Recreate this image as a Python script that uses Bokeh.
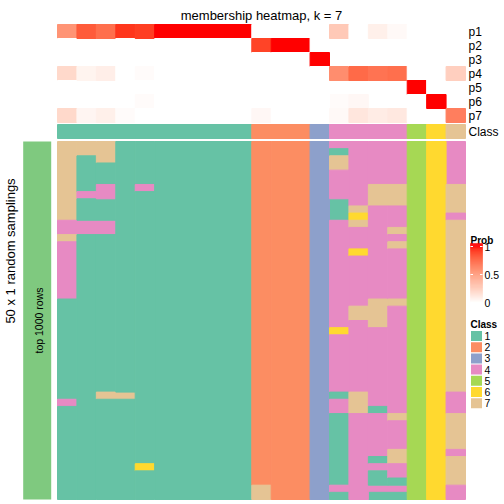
import math
from bokeh.plotting import figure
from bokeh.models import Range1d
from bokeh.embed import file_html
from bokeh.resources import INLINE
from bokeh.core.properties import value

# ---------------- data ----------------
prob_names = ["p1", "p2", "p3", "p4", "p5", "p6", "p7"]
p1 = [0.55, 0.80, 0.72, 0.92, 0.90, 1, 1, 1, 1, 1, 0, 0, 0, 0, 0.28, 0, 0.08, 0.03, 0, 0, 0]
p2 = [0, 0, 0, 0, 0, 0, 0, 0, 0, 0, 0.88, 1, 1, 0, 0, 0, 0, 0, 0, 0, 0]
p3 = [0, 0, 0, 0, 0, 0, 0, 0, 0, 0, 0, 0, 0, 1, 0, 0, 0, 0, 0, 0, 0]
p4 = [0.20, 0.06, 0.09, 0, 0.02, 0, 0, 0, 0, 0, 0, 0, 0, 0, 0.58, 0.74, 0.70, 0.72, 0, 0, 0.25]
p5 = [0, 0, 0, 0, 0, 0, 0, 0, 0, 0, 0, 0, 0, 0, 0, 0, 0, 0, 1, 0, 0]
p6 = [0, 0, 0, 0, 0.02, 0, 0, 0, 0, 0, 0, 0, 0, 0, 0.02, 0.04, 0, 0, 0, 1, 0]
p7 = [0.20, 0.05, 0.08, 0.02, 0, 0, 0, 0, 0, 0, 0.04, 0, 0, 0, 0.03, 0.13, 0.10, 0.12, 0, 0, 0.65]
prob_rows = [p1, p2, p3, p4, p5, p6, p7]

class_of_col = [1, 1, 1, 1, 1, 1, 1, 1, 1, 1, 2, 2, 2, 3, 4, 4, 4, 4, 5, 6, 7]

# class of each column in each of the 50 random samplings (one string per row)
samplings = [
    "7771111111 222 3 4444 56 4",
    "7771111111 222 3 1444 56 4",
    "7171111111 222 3 7444 56 4",
    "7111111111 222 3 7444 56 4",
    "7111111111 222 3 4444 56 4",
    "7111111111 222 3 4444 56 4",
    "7141411111 222 3 4477 56 7",
    "7441111111 222 3 4477 56 7",
    "7111111111 222 3 1477 56 7",
    "7111111111 222 3 1744 56 7",
    "7111111111 222 3 1644 56 4",
    "4441111111 222 3 4744 56 7",
    "4441111111 222 3 4447 56 7",
    "7111111111 222 3 4444 56 7",
    "4111111111 222 3 4447 56 7",
    "4111111111 222 3 4644 56 7",
    "4111111111 222 3 4444 56 7",
    "4111111111 222 3 4444 56 7",
    "4111111111 222 3 4444 56 7",
    "4111111111 222 3 4444 56 7",
    "4111111111 222 3 4444 56 7",
    "4111111111 222 3 4444 56 7",
    "1111111111 222 3 4477 56 7",
    "1111111111 222 3 4774 56 7",
    "1111111111 222 3 4774 56 7",
    "1111111111 222 3 4474 56 7",
    "1111111111 222 3 6444 56 7",
    "1111111111 222 3 4444 56 7",
    "1111111111 222 3 4444 56 7",
    "1111111111 222 3 4444 56 7",
    "1111111111 222 3 4444 56 7",
    "1111111111 222 3 4444 56 7",
    "1111111111 222 3 4444 56 7",
    "1111111111 222 3 4444 56 7",
    "1111111111 222 3 4444 56 7",
    "1177111111 222 3 1744 56 4",
    "4111111111 222 3 4744 56 4",
    "1111111111 222 3 4714 56 4",
    "1111111111 222 3 1447 56 7",
    "1111111111 222 3 1444 56 7",
    "1111111111 222 3 1444 56 7",
    "1111111111 222 3 1444 56 7",
    "1111111111 222 3 1444 56 7",
    "1111111111 222 3 1447 56 4",
    "1111111111 222 3 1417 56 7",
    "1111611111 222 3 1444 56 7",
    "1111111111 222 3 1414 56 7",
    "1111111111 222 3 1411 56 7",
    "1111111111 722 3 4444 56 4",
    "1111111111 722 3 1411 56 4",
]

class_labels = ["1", "2", "3", "4", "5", "6", "7"]
class_colors = {1: "#66C2A5", 2: "#FC8D62", 3: "#8DA0CB", 4: "#E78AC3",
                5: "#A6D854", 6: "#FFD92F", 7: "#E5C494"}
prob_breaks = [0, 0.5, 1]
prob_break_labels = ["0", "0.5", "1"]

title = "membership heatmap, k = 7"
row_title = "50 x 1 random samplings"
slice_title = "top 1000 rows"
slice_color = "#7FC97F"

# ---------------- colour ramp white -> red in LAB ----------------
def _lin(c):
    c = c / 255.0
    return c / 12.92 if c <= 0.04045 else ((c + 0.055) / 1.055) ** 2.4

def _gam(c):
    c = 12.92 * c if c <= 0.0031308 else 1.055 * (max(c, 0) ** (1 / 2.4)) - 0.055
    return int(round(min(max(c, 0), 1) * 255))

_WN = (0.95047, 1.0, 1.08883)

def _to_lab(rgb):
    r, g, b = [_lin(v) for v in rgb]
    X = 0.4124 * r + 0.3576 * g + 0.1805 * b
    Y = 0.2126 * r + 0.7152 * g + 0.0722 * b
    Z = 0.0193 * r + 0.1192 * g + 0.9505 * b
    def f(t):
        return t ** (1 / 3) if t > 0.008856 else 7.787 * t + 16 / 116
    fx, fy, fz = f(X / _WN[0]), f(Y / _WN[1]), f(Z / _WN[2])
    return (116 * fy - 16, 500 * (fx - fy), 200 * (fy - fz))

def _from_lab(lab):
    L, a, b = lab
    fy = (L + 16) / 116
    fx = fy + a / 500
    fz = fy - b / 200
    def fi(t):
        return t ** 3 if t ** 3 > 0.008856 else (t - 16 / 116) / 7.787
    X, Y, Z = fi(fx) * _WN[0], fi(fy) * _WN[1], fi(fz) * _WN[2]
    r = 3.2406 * X - 1.5372 * Y - 0.4986 * Z
    g = -0.9689 * X + 1.8758 * Y + 0.0415 * Z
    bb = 0.0557 * X - 0.2040 * Y + 1.0570 * Z
    return "#%02x%02x%02x" % (_gam(r), _gam(g), _gam(bb))

_LW = _to_lab((255, 255, 255))
_LR = _to_lab((255, 0, 0))

def ramp(v):
    v = min(max(v, 0.0), 1.0)
    return _from_lab(tuple(_LW[i] + (_LR[i] - _LW[i]) * v for i in range(3)))

# ---------------- layout (page pixels) ----------------
PAGE0, PAGE1 = 0, 504
COL_L, COL_R = 57, 465
NCOL = len(class_of_col)
CW = (COL_R - COL_L) / NCOL
HM_TOP, HM_BOT = 141, 499
NROW = len(samplings)
RH = (HM_BOT - HM_TOP) / NROW
ANN_TOP, AH = 24, 14
CLASS_ROW_TOP = 124
PROB_Y0, PROB_SCALE = 302, 56

p = figure(width=PAGE1 - PAGE0, height=PAGE1 - PAGE0, output_backend="svg",
           toolbar_location=None, x_range=Range1d(PAGE0, PAGE1),
           y_range=Range1d(PAGE1, PAGE0), x_axis_location=None,
           y_axis_location=None, min_border=0)
p.outline_line_color = None
p.grid.grid_line_color = None
p.background_fill_color = "white"
p.border_fill_color = "white"

p.extra_x_ranges = {"col": Range1d((PAGE0 - COL_L) / CW, (PAGE1 - COL_L) / CW)}
p.extra_y_ranges = {
    "row": Range1d((PAGE1 - HM_TOP) / RH, (PAGE0 - HM_TOP) / RH),
    "ann": Range1d((PAGE1 - ANN_TOP) / AH, (PAGE0 - ANN_TOP) / AH),
    "prob": Range1d((PROB_Y0 - PAGE1) / PROB_SCALE, (PROB_Y0 - PAGE0) / PROB_SCALE),
}

FONT = value("Liberation Sans")


def merged_cells(grid):
    """grid[i][j] -> colour; returns merged rectangles (vertical runs, then
    horizontally merged identical runs) to avoid anti-aliasing seams."""
    nr, nc = len(grid), len(grid[0])
    runs = {}
    for j in range(nc):
        i = 0
        while i < nr:
            k = i
            while k + 1 < nr and grid[k + 1][j] == grid[i][j]:
                k += 1
            runs.setdefault((i, k + 1, grid[i][j]), []).append(j)
            i = k + 1
    L, R, T, B, C = [], [], [], [], []
    for (t, b, c), cols in runs.items():
        cols.sort()
        s = cols[0]
        prev = cols[0]
        for cj in cols[1:] + [None]:
            if cj is not None and cj == prev + 1:
                prev = cj
                continue
            L.append(s); R.append(prev + 1); T.append(t); B.append(b); C.append(c)
            if cj is not None:
                s = prev = cj
    return L, R, T, B, C


# top membership annotation
grid = [[ramp(v) for v in vals] for vals in prob_rows]
L, R, T, B, C = merged_cells(grid)
p.quad(left=L, right=R, top=T, bottom=B, fill_color=C, line_color=C, line_width=1,
       x_range_name="col", y_range_name="ann")

# class annotation row
ca = (CLASS_ROW_TOP - ANN_TOP) / AH
L, R, T, B, C = merged_cells([[class_colors[c] for c in class_of_col]])
p.quad(left=L, right=R, top=[ca + t for t in T], bottom=[ca + b for b in B],
       fill_color=C, line_color=C, line_width=1,
       x_range_name="col", y_range_name="ann")

# main heatmap
grid = [[class_colors[int(ch)] for ch in row.replace(" ", "")] for row in samplings]
L, R, T, B, C = merged_cells(grid)
p.quad(left=L, right=R, top=T, bottom=B, fill_color=C, line_color=C, line_width=1,
       x_range_name="col", y_range_name="row")

# left slice bar
p.quad(left=[22.7], right=[50.7], top=[0], bottom=[NROW], fill_color=slice_color,
       line_color=None, y_range_name="row")
p.text(x=[38], y=[NROW / 2], text=[slice_title], angle=math.pi / 2,
       text_font=FONT, text_font_size="10.5px", text_align="center",
       text_baseline="middle", color="black", y_range_name="row")
p.text(x=[10], y=[250.5], text=[row_title], angle=math.pi / 2, text_font=FONT,
       text_font_size="13px", text_align="center", text_baseline="middle", color="black")

# title
p.text(x=[NCOL / 2], y=[14.5], text=[title], text_font=FONT, text_font_size="13px",
       text_align="center", text_baseline="alphabetic", color="black",
       x_range_name="col")

# annotation labels
p.text(x=[468] * 7, y=[k + 0.5 for k in range(7)], text=prob_names, text_font=FONT,
       text_font_size="12px", text_align="left", text_baseline="middle",
       color="black", y_range_name="ann")
p.text(x=[468], y=[ca + 0.5], text=["Class"], text_font=FONT, text_font_size="12px",
       text_align="left", text_baseline="middle", color="black", y_range_name="ann")

# Prob legend
p.text(x=[470], y=[240], text=["Prob"], text_font=FONT, text_font_size="10px",
       text_font_style="bold", text_align="left", text_baseline="alphabetic",
       color="black")
nseg = 64
v_top, v_bot = 1.055, -0.08
gb, gt, gc = [], [], []
for s in range(nseg):
    a = v_bot + (v_top - v_bot) * s / nseg
    b = v_bot + (v_top - v_bot) * (s + 1) / nseg
    gb.append(a); gt.append(b); gc.append(ramp((a + b) / 2))
p.quad(left=[470] * nseg, right=[482] * nseg, bottom=gb, top=gt, fill_color=gc,
       line_color=gc, line_width=0.5, y_range_name="prob")
p.segment(x0=[470] * 3 + [479.5] * 3, x1=[472.5] * 3 + [482] * 3,
          y0=prob_breaks * 2, y1=prob_breaks * 2, line_color="white", line_width=1,
          y_range_name="prob")
p.text(x=[484] * 3, y=prob_breaks, text=prob_break_labels, text_font=FONT,
       text_font_size="10.5px", text_align="left", text_baseline="middle",
       color="black", y_range_name="prob")

# Class legend
p.text(x=[470], y=[323.5], text=["Class"], text_font=FONT, text_font_size="10px",
       text_font_style="bold", text_align="left", text_baseline="alphabetic",
       color="black")
ys = [335.5 + 11.2 * i for i in range(7)]
lc = [class_colors[int(c)] for c in class_labels]
p.quad(left=[470.5] * 7, right=[481.5] * 7, top=[y - 5 for y in ys],
       bottom=[y + 5 for y in ys], fill_color=lc, line_color=None)
p.text(x=[484] * 7, y=ys, text=class_labels, text_font=FONT, text_font_size="10.5px",
       text_align="left", text_baseline="middle", color="black")

open("out.html", "w").write(file_html(p, INLINE))
